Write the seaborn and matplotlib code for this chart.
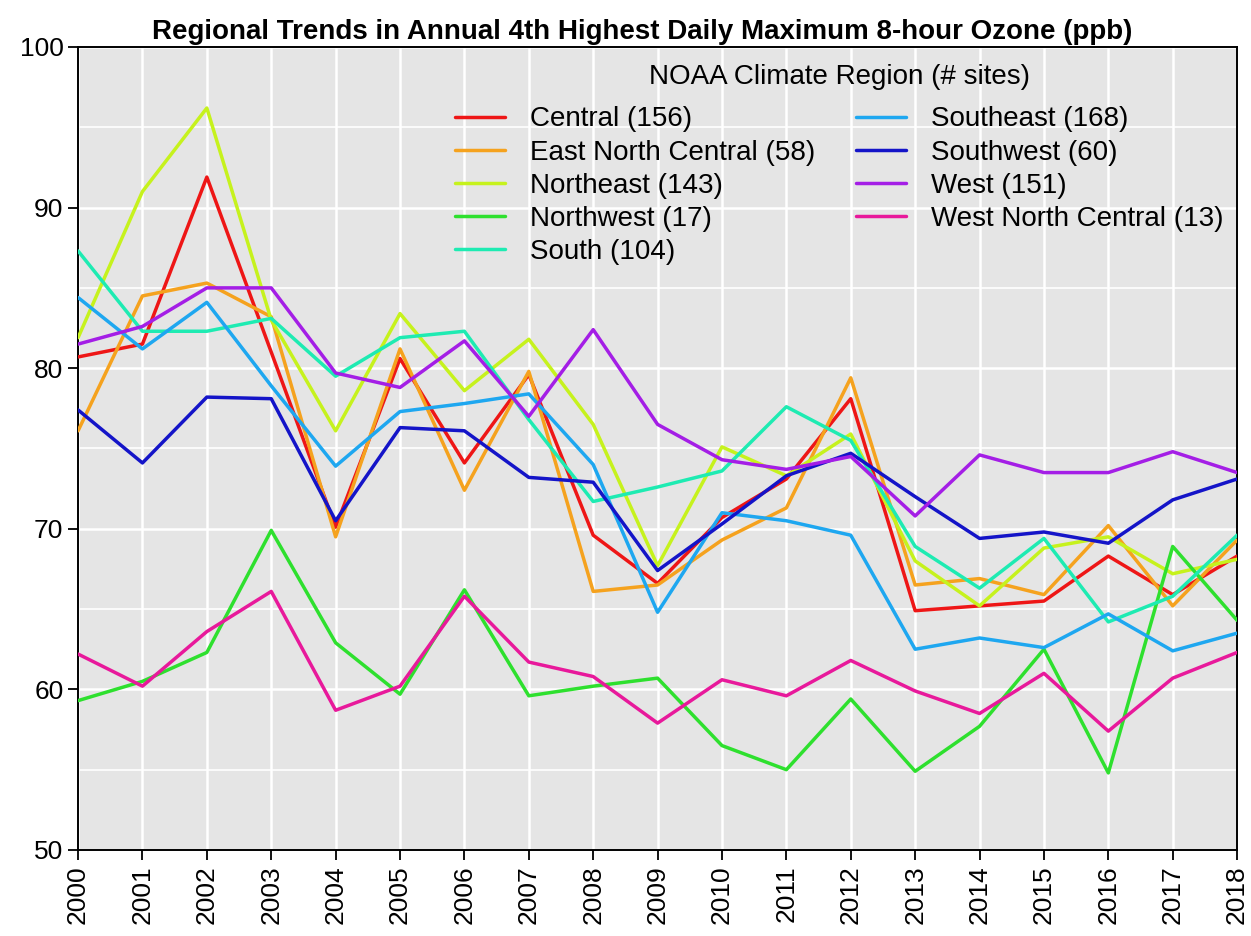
import numpy as np
import pandas as pd
import matplotlib
matplotlib.use("Agg")
import matplotlib.pyplot as plt
import seaborn as sns

# данные (ppb)
years = list(range(2000, 2019))

central = [80.7, 81.5, 91.9, 81.0, 70.1, 80.6, 74.1, 79.6, 69.6, 66.6,
           70.7, 73.1, 78.1, 64.9, 65.2, 65.5, 68.3, 65.9, 68.3]
east_north_central = [76.1, 84.5, 85.3, 83.2, 69.5, 81.2, 72.4, 79.8, 66.1, 66.5,
                      69.3, 71.3, 79.4, 66.5, 66.9, 65.9, 70.2, 65.2, 69.3]
northeast = [81.9, 91.0, 96.2, 83.0, 76.1, 83.4, 78.6, 81.8, 76.5, 67.7,
             75.1, 73.3, 75.9, 68.0, 65.2, 68.8, 69.5, 67.2, 68.1]
northwest = [59.3, 60.5, 62.3, 69.9, 62.9, 59.7, 66.2, 59.6, 60.2, 60.7,
             56.5, 55.0, 59.4, 54.9, 57.7, 62.5, 54.8, 68.9, 64.3]
south = [87.3, 82.3, 82.3, 83.1, 79.5, 81.9, 82.3, 76.8, 71.7, 72.6,
         73.6, 77.6, 75.5, 68.9, 66.3, 69.4, 64.2, 65.8, 69.6]
southeast = [84.4, 81.2, 84.1, 78.9, 73.9, 77.3, 77.8, 78.4, 74.0, 64.8,
             71.0, 70.5, 69.6, 62.5, 63.2, 62.6, 64.7, 62.4, 63.5]
southwest = [77.4, 74.1, 78.2, 78.1, 70.5, 76.3, 76.1, 73.2, 72.9, 67.4,
             70.3, 73.3, 74.7, 72.0, 69.4, 69.8, 69.1, 71.8, 73.1]
west = [81.5, 82.6, 85.0, 85.0, 79.7, 78.8, 81.7, 77.0, 82.4, 76.5,
        74.3, 73.7, 74.5, 70.8, 74.6, 73.5, 73.5, 74.8, 73.5]
west_north_central = [62.2, 60.2, 63.6, 66.1, 58.7, 60.2, 65.8, 61.7, 60.8, 57.9,
                      60.6, 59.6, 61.8, 59.9, 58.5, 61.0, 57.4, 60.7, 62.3]

region_names = ["Central (156)", "East North Central (58)", "Northeast (143)",
                "Northwest (17)", "South (104)", "Southeast (168)",
                "Southwest (60)", "West (151)", "West North Central (13)"]
region_colors = ["#EE1616", "#F5A21E", "#C6F21D", "#2EE02E", "#1EEBB2",
                 "#1EA7F0", "#1414C8", "#A41EE6", "#E8199B"]
series = [central, east_north_central, northeast, northwest, south,
          southeast, southwest, west, west_north_central]

# длинный формат для seaborn
df = pd.concat([pd.DataFrame({"year": years, "ozone": vals, "region": name})
                for name, vals in zip(region_names, series)], ignore_index=True)

sns.set_theme(style="white")
plt.rcParams['font.family'] = ['Liberation Sans', 'DejaVu Sans']
plt.rcParams['text.color'] = 'black'
plt.rcParams['xtick.color'] = 'black'
plt.rcParams['ytick.color'] = 'black'
plt.rcParams['axes.labelcolor'] = 'black'

fig = plt.figure(figsize=(12.51, 9.36), dpi=100)
ax = fig.add_axes([0.0624, 0.0919, 0.9265, 0.8579])
ax.set_facecolor("#E5E5E5")

sns.lineplot(data=df, x="year", y="ozone", hue="region", hue_order=region_names,
             palette=region_colors, linewidth=2.5, ax=ax, zorder=3)

ax.set_xlim(2000, 2018)
ax.set_ylim(50, 100)
ax.set_xticks(years)
ax.set_xticklabels([str(y) for y in years], rotation=90, fontsize=19)
ax.set_yticks(np.arange(50, 101, 10))
ax.set_yticks(np.arange(55, 100, 10), minor=True)
ax.tick_params(axis="y", which="major", labelsize=19, length=7, width=1.3,
               direction="out", left=True, color="black")
ax.tick_params(axis="x", which="major", length=7, width=1.3, direction="out",
               bottom=True, color="black", pad=4)
ax.tick_params(axis="y", which="minor", length=0)

ax.grid(True, which="major", axis="both", color="white", linewidth=1.8, zorder=1)
ax.grid(True, which="minor", axis="y", color="white", linewidth=1.2, zorder=1)
ax.set_axisbelow(True)

for s in ax.spines.values():
    s.set_visible(True)
    s.set_color("black")
    s.set_linewidth(1.4)

ax.set_xlabel("")
ax.set_ylabel("")
ax.set_title("Regional Trends in Annual 4th Highest Daily Maximum 8-hour Ozone (ppb)",
             fontsize=20, fontweight="bold", pad=6, x=0.487, color="black")

handles, labels = ax.get_legend_handles_labels()
leg = ax.legend(handles, labels, ncol=2, title="NOAA Climate Region (# sites)",
                fontsize=20, title_fontsize=20, frameon=False,
                loc="upper right", bbox_to_anchor=(0.993, 0.986),
                borderaxespad=0, borderpad=0.2,
                handlelength=1.8, handletextpad=0.9, columnspacing=1.45,
                labelspacing=0.255)
# побольше отступ между заголовком легенды и строками
leg._legend_box.sep = 12
for line in leg.get_lines():
    line.set_linewidth(2.5)
for t in leg.get_texts():
    t.set_color("black")

fig.savefig("out.png", dpi=100)
